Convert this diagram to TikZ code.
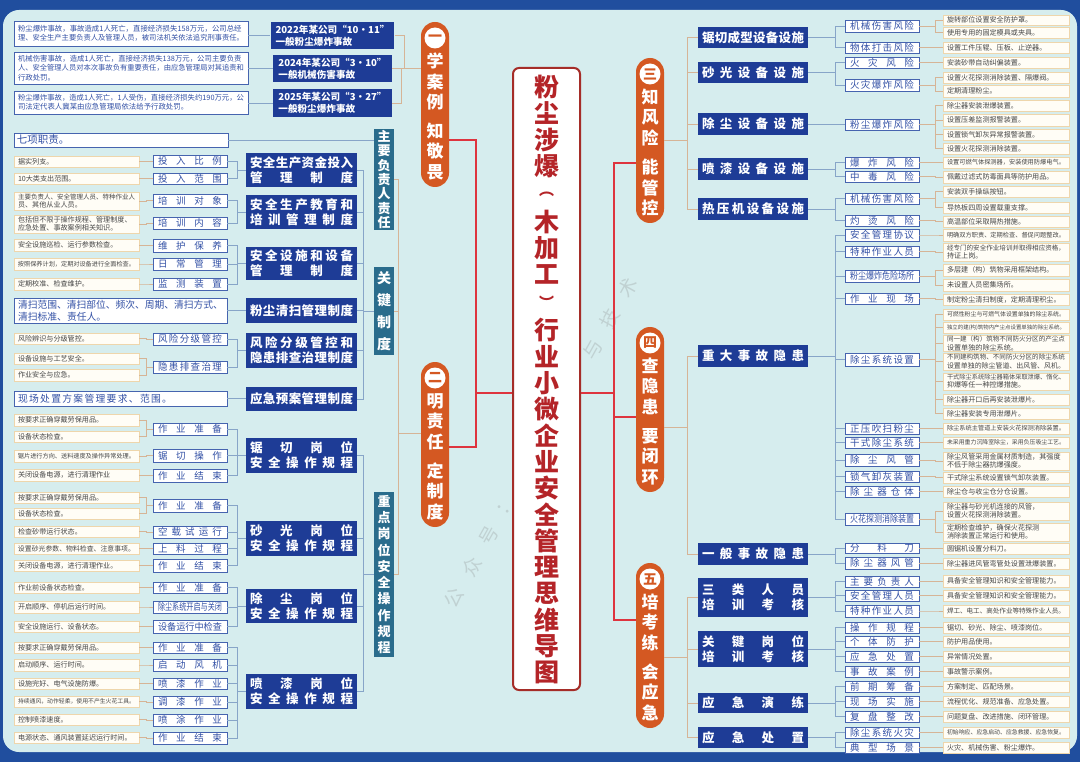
\documentclass[tikz,border=0pt]{standalone}
\usepackage{fontspec}
\setmainfont{Noto Sans CJK SC}
\usepackage{graphicx}
\definecolor{bgout}{RGB}{32,78,158}
\definecolor{panel}{RGB}{214,237,238}
\definecolor{dkb}{RGB}{30,60,150}
\definecolor{tealc}{RGB}{42,108,140}
\definecolor{catb}{RGB}{70,100,175}
\definecolor{catt}{RGB}{50,80,165}
\definecolor{leaff}{RGB}{255,253,246}
\definecolor{leafb}{RGB}{238,214,172}
\definecolor{leaft}{RGB}{70,70,70}
\definecolor{pillc}{RGB}{212,88,34}
\definecolor{titleb}{RGB}{165,45,40}
\definecolor{titlet}{RGB}{180,36,40}
\definecolor{redc}{RGB}{222,52,62}
\definecolor{tanc}{RGB}{214,180,150}
\definecolor{bgc}{RGB}{135,165,200}
\newsavebox\fitbox
\newcommand\fitw[2]{\sbox\fitbox{#2}\ifdim\wd\fitbox>#1\relax\resizebox{#1}{!}{\usebox\fitbox}\else\usebox\fitbox\fi}
\def\spreadchars#1{\spreadA#1\endspread}
\def\spreadA#1#2\endspread{#1\ifx\relax#2\relax\else\hfill\spreadA#2\endspread\fi}
\newcommand\spreadfit[2]{\sbox\fitbox{#2}\ifdim\wd\fitbox>#1\relax\resizebox{#1}{\height}{\usebox\fitbox}\else\makebox[#1]{\spreadchars{#2}}\fi}
\newcommand\FL[1]{\fitw{\tw pt}{#1}}
\newcommand\SP[1]{\spreadfit{\tw pt}{#1}}
\newcommand\bx[7]{\pgfmathsetmacro\bw{#5-#3}\pgfmathsetmacro\bh{#6-#4}\pgfmathsetmacro\tw{#5-#3-8}%
 \node[#1,minimum width=\bw pt,minimum height=\bh pt] (#2) at ({(#3+#5)/2},{(#4+#6)/2}) {#7};}
\newcommand\tb[7]{\pgfmathsetmacro\bh{#6-#4}\pgfmathsetmacro\tw{#5-#3-8}%
 \node[#1,minimum height=\bh pt,text width=\tw pt] (#2) at ({(#3+#5)/2},{(#4+#6)/2}) {#7};}
\newcommand\catn[6]{\pgfmathsetmacro\bw{#4-#2}\pgfmathsetmacro\bh{#5-#3}\pgfmathsetmacro\tw{#4-#2-10}%
 \node[cat,minimum width=\bw pt,minimum height=\bh pt] (#1) at ({(#2+#4)/2},{(#3+#5)/2}) {\spreadfit{\tw pt}{#6}};}
\newcommand\Lleaf[4]{\tb{leaf}{#1}{14}{#2}{139}{#3}{\FL{#4}}}
\newcommand\LleafM[4]{\tb{leaf}{#1}{14}{#2}{139}{#3}{#4}}
\newcommand\Rleaf[4]{\tb{leaf}{#1}{943}{#2}{1069}{#3}{\FL{#4}}}
\newcommand\RleafM[4]{\tb{leaf}{#1}{943}{#2}{1069}{#3}{#4}}
\newcommand\Lcat[4]{\catn{#1}{153}{#2}{227}{#3}{#4}}
\newcommand\Rcat[4]{\catn{#1}{845}{#2}{919}{#3}{#4}}
\newcommand\Ldk[4]{\bx{dark}{#1}{246}{#2}{357}{#3}{#4}}
\newcommand\Rdk[4]{\bx{dark}{#1}{698}{#2}{808}{#3}{#4}}
\newcommand\pillnode[6]{%
 \node[pill] (#1) at (#2,{#3+82.5}) {};
 \node[pillnum] (#1n) at (#2,{#3+16}) {#4};
 \foreach \c [count=\i] in {#5} {\node[pillch] (#1a\i) at (#2,{#3+39+20.5*(\i-1)}) {\c};}
 \foreach \c [count=\i] in {#6} {\node[pillch] (#1b\i) at (#2,{#3+109+20.5*(\i-1)}) {\c};}
}
\tikzset{
 leaf/.style={draw=leafb,fill=leaff,line width=0.7pt,inner xsep=4pt,inner ysep=0.5pt,text=leaft,font=\fontsize{7.1}{8.2}\selectfont,align=left},
 casebox/.style={draw=catb,fill=white,line width=0.9pt,inner xsep=4pt,inner ysep=1pt,text=catt,font=\fontsize{7.4}{9.4}\selectfont,align=left},
 bigbox/.style={draw=catb,fill=white,line width=0.9pt,inner xsep=4pt,inner ysep=1pt,text=catt,font=\fontsize{9.8}{12}\selectfont,align=left},
 cat/.style={draw=catb,fill=white,line width=0.9pt,inner sep=0pt,text=catt,font=\fontsize{9.5}{10}\selectfont},
 dark/.style={fill=dkb,inner sep=0pt,text=white,font=\bfseries\fontsize{12.5}{15}\selectfont,align=center},
 ctitle/.style={fill=dkb,inner xsep=5pt,inner ysep=0pt,text=white,font=\bfseries\fontsize{9.6}{12}\selectfont,align=left},
 teal/.style={fill=tealc,inner sep=0pt,text=white,align=center},
 pill/.style={fill=pillc,rounded corners=14pt,inner sep=0pt,minimum width=28pt,minimum height=165pt},
 pillnum/.style={circle,fill=white,minimum size=21pt,inner sep=0pt,text=pillc,font=\bfseries\fontsize{14}{14}\selectfont},
 pillch/.style={inner sep=0pt,text=white,font=\bfseries\fontsize{17}{17}\selectfont},
 titch/.style={inner sep=0pt,text=titlet,font=\bfseries\fontsize{25}{25}\selectfont},
 titpar/.style={inner sep=0pt,text=titlet,font=\bfseries\fontsize{15}{15}\selectfont},
 wmch/.style={inner sep=0pt,text=gray,text opacity=0.25,font=\fontsize{19}{19}\selectfont},
 tanl/.style={draw=tanc,line width=0.8pt},
 bgl/.style={draw=bgc,line width=0.8pt},
 redline/.style={draw=redc,line width=1.4pt},
}
\begin{document}
\begin{tikzpicture}[x=1pt,y=-1pt]
\useasboundingbox (0,0) rectangle (1080,762);
\fill[bgout] (0,0) rectangle (1080,762);
\fill[panel,rounded corners=16pt] (3,10) rectangle (1077,752);

% ---------- watermark (the middle is hidden by the title box) ----------
\foreach \k/\c in {0/公,1/众,2/号,3/：,8/与,9/技,10/术}
  \node[wmch,rotate=60.8] (wm\k) at ({541+(\k-5)*17.32},{443-(\k-5)*31.0}) {\c};

% ---------- title ----------
\node[draw=titleb,line width=2pt,fill=white,rounded corners=6pt,minimum width=67pt,minimum height=622pt] (tbox) at (546.5,379) {};
\foreach \y/\c [count=\i] in {87/粉,113.3/尘,139.6/涉,165.9/爆,221.9/木,248.2/加,274.5/工,330.5/行,356.8/业,383.1/小,409.4/微,435.7/企,462/业,488.3/安,514.6/全,540.9/管,567.2/理,593.5/思,619.8/维,646.1/导,672.4/图}
  \node[titch] (tc\i) at (546.5,\y) {\c};
\node[titpar] (tpo) at (546.5,194.5) {︵};
\node[titpar] (tpc) at (546.5,302) {︶};

% ---------- pills ----------
\pillnode{p1}{435}{22}{一}{学,案,例}{知,敬,畏}
\pillnode{p2}{435}{362}{二}{明,责,任}{定,制,度}
\pillnode{p3}{650}{58}{三}{知,风,险}{能,管,控}
\pillnode{p4}{650}{327}{四}{查,隐,患}{要,闭,环}
\pillnode{p5}{650}{563}{五}{培,考,练}{会,应,急}

% ---------- left: cases ----------
\tb{casebox}{cs1}{14}{21}{248}{46}{\FL{粉尘爆炸事故，事故造成1人死亡，直接经济损失158万元，公司总经}\\\FL{理、安全生产主要负责人及管理人员，被司法机关依法追究刑事责任。}}
\tb{casebox}{cs2}{14}{52}{248}{84}{\FL{机械伤害事故，造成1人死亡，直接经济损失138万元，公司主要负责}\\\FL{人、安全管理人员对本次事故负有重要责任，由应急管理局对其追责和}\\\FL{行政处罚。}}
\tb{casebox}{cs3}{14}{91}{248}{114}{\FL{粉尘爆炸事故，造成1人死亡，1人受伤，直接经济损失约190万元，公}\\\FL{司法定代表人冀某由应急管理局依法给予行政处罚。}}
\bx{ctitle}{ct1}{277}{22}{388}{49}{2022年某公司“10•11”\\一般粉尘爆炸事故}
\bx{ctitle}{ct2}{277}{55}{388}{82}{2024年某公司“3•10”\\一般机械伤害事故}
\bx{ctitle}{ct3}{277}{89}{388}{117}{2025年某公司“3•27”\\一般粉尘爆炸事故}

% ---------- left: teal ----------
\bx{teal,font=\bfseries\fontsize{13}{14.3}\selectfont}{tl1}{374}{129}{394}{230}{主\\要\\负\\责\\人\\责\\任}
\bx{teal,font=\bfseries\fontsize{14}{22}\selectfont}{tl2}{374}{267}{394}{355}{关\\键\\制\\度}
\bx{teal,font=\bfseries\fontsize{13}{16.3}\selectfont}{tl3}{374}{492}{394}{657}{重\\点\\岗\\位\\安\\全\\操\\作\\规\\程}

\tb{bigbox,font=\fontsize{10.5}{12}\selectfont}{qx}{14}{133}{228}{147}{\makebox[50pt]{\spreadchars{七项职责。}}}
\tb{bigbox}{qs}{14}{298}{227}{323}{\FL{清扫范围、清扫部位、频次、周期、清扫方式、}\\\FL{清扫标准、责任人。}}
\tb{bigbox}{qf}{14}{391}{227}{406}{\makebox[154pt]{\spreadchars{现场处置方案管理要求、范围。}}}

% ---------- left: dark ----------
\Ldk{dA}{153}{187}{\SP{安全生产资金投入}\\\SP{管理制度}}
\Ldk{dB}{195}{229}{\SP{安全生产教育和}\\\SP{培训管理制度}}
\Ldk{dC}{247}{280}{\SP{安全设施和设备}\\\SP{管理制度}}
\Ldk{dD}{298}{323}{\SP{粉尘清扫管理制度}}
\Ldk{dE}{333}{368}{\SP{风险分级管控和}\\\SP{隐患排查治理制度}}
\Ldk{dF}{387}{411}{\SP{应急预案管理制度}}
\Ldk{dG}{438}{473}{\SP{锯切岗位}\\\SP{安全操作规程}}
\Ldk{dH}{521}{556}{\SP{砂光岗位}\\\SP{安全操作规程}}
\Ldk{dI}{589}{623}{\SP{除尘岗位}\\\SP{安全操作规程}}
\Ldk{dJ}{674}{709}{\SP{喷漆岗位}\\\SP{安全操作规程}}

% ---------- left: categories ----------
\Lcat{c1}{155}{167}{投入比例}
\Lcat{c2}{173}{184}{投入范围}
\Lcat{c3}{194}{207}{培训对象}
\Lcat{c4}{217}{229}{培训内容}
\Lcat{c5}{239}{252}{维护保养}
\Lcat{c6}{258}{270}{日常管理}
\Lcat{c7}{278}{290}{监测装置}
\Lcat{c8}{333}{345}{风险分级管控}
\Lcat{c9}{361}{373}{隐患排查治理}
\Lcat{c10}{423}{435}{作业准备}
\Lcat{c11}{449}{462}{锯切操作}
\Lcat{c12}{469}{482}{作业结束}
\Lcat{c13}{499}{512}{作业准备}
\Lcat{c14}{526}{538}{空载试运行}
\Lcat{c15}{543}{554}{上料过程}
\Lcat{c16}{559}{572}{作业结束}
\Lcat{c17}{582}{593}{作业准备}
\Lcat{c18}{601}{613}{除尘系统开启与关闭}
\Lcat{c19}{620}{633}{设备运行中检查}
\Lcat{c20}{642}{653}{作业准备}
\Lcat{c21}{659}{671}{启动风机}
\Lcat{c22}{678}{689}{喷漆作业}
\Lcat{c23}{696}{708}{调漆作业}
\Lcat{c24}{714}{726}{喷涂作业}
\Lcat{c25}{732}{744}{作业结束}

% ---------- left: leaves ----------
\Lleaf{l1}{156}{167}{据实列支。}
\Lleaf{l2}{173}{184}{10大类支出范围。}
\LleafM{l3}{192}{210}{\FL{主要负责人、安全管理人员、特种作业人}\\\FL{员、其他从业人员。}}
\LleafM{l4}{215}{233}{\FL{包括但不限于操作规程、管理制度、}\\\FL{应急处置、事故案例相关知识。}}
\Lleaf{l5}{239}{251}{安全设施巡检、运行参数检查。}
\Lleaf{l6}{258}{270}{按照保养计划，定期对设备进行全面检查。}
\Lleaf{l7}{278}{290}{定期校准、检查维护。}
\Lleaf{l8}{333}{344}{风险辨识与分级管控。}
\Lleaf{l9}{353}{364}{设备设施与工艺安全。}
\Lleaf{l10}{369}{381}{作业安全与应急。}
\Lleaf{l11}{414}{426}{按要求正确穿戴劳保用品。}
\Lleaf{l12}{431}{442}{设备状态检查。}
\Lleaf{l13}{450}{462}{锯片进行方向、送料速度及操作异常处理。}
\Lleaf{l14}{469}{481}{关闭设备电源，进行清理作业}
\Lleaf{l15}{492}{503}{按要求正确穿戴劳保用品。}
\Lleaf{l16}{508}{519}{设备状态检查。}
\Lleaf{l17}{526}{537}{检查砂带运行状态。}
\Lleaf{l18}{543}{554}{设置砂光参数、物料检查、注意事项。}
\Lleaf{l19}{560}{571}{关闭设备电源，进行清理作业。}
\Lleaf{l20}{582}{593}{作业前设备状态检查。}
\Lleaf{l21}{601}{613}{开启顺序、停机后运行时间。}
\Lleaf{l22}{621}{632}{安全设施运行、设备状态。}
\Lleaf{l23}{642}{653}{按要求正确穿戴劳保用品。}
\Lleaf{l24}{659}{671}{启动顺序、运行时间。}
\Lleaf{l25}{678}{689}{设施完好、电气设施防爆。}
\Lleaf{l26}{696}{707}{持续通风，动作轻柔，使用不产生火花工具。}
\Lleaf{l27}{714}{725}{控制喷漆速度。}
\Lleaf{l28}{732}{743}{电源状态、通风装置延迟运行时间。}

% ---------- right: dark ----------
\Rdk{R1}{27}{48}{\SP{锯切成型设备设施}}
\Rdk{R2}{62}{83}{\SP{砂光设备设施}}
\Rdk{R3}{113}{135}{\SP{除尘设备设施}}
\Rdk{R4}{158}{180}{\SP{喷漆设备设施}}
\Rdk{R5}{198}{220}{\SP{热压机设备设施}}
\Rdk{R6}{345}{367}{\SP{重大事故隐患}}
\Rdk{R7}{543}{565}{\SP{一般事故隐患}}
\Rdk{R8}{578}{617}{\SP{三类人员}\\\SP{培训考核}}
\Rdk{R9}{631}{667}{\SP{关键岗位}\\\SP{培训考核}}
\Rdk{R10}{693}{713}{\SP{应急演练}}
\Rdk{R11}{727}{748}{\SP{应急处置}}

% ---------- right: categories ----------
\Rcat{k1}{20}{32}{机械伤害风险}
\Rcat{k2}{42}{53}{物体打击风险}
\Rcat{k3}{57}{68}{火灾风险}
\Rcat{k4}{79}{91}{火灾爆炸风险}
\Rcat{k5}{119}{130}{粉尘爆炸风险}
\Rcat{k6}{157}{168}{爆炸风险}
\Rcat{k7}{171}{182}{中毒风险}
\Rcat{k8}{193}{204}{机械伤害风险}
\Rcat{k9}{215}{226}{灼烫风险}
\Rcat{k10}{229}{241}{安全管理协议}
\Rcat{k11}{246}{257}{特种作业人员}
\Rcat{k12}{270}{282}{粉尘爆炸危险场所}
\Rcat{k13}{293}{304}{作业现场}
\Rcat{k14}{353}{366}{除尘系统设置}
\Rcat{k15}{423}{434}{正压吹扫粉尘}
\Rcat{k16}{437}{448}{干式除尘系统}
\Rcat{k17}{454}{466}{除尘风管}
\Rcat{k18}{471}{482}{锁气卸灰装置}
\Rcat{k19}{486}{497}{除尘器仓体}
\Rcat{k20}{513}{525}{火花探测消除装置}
\Rcat{k21}{543}{553}{分料刀}
\Rcat{k22}{557}{569}{除尘器风管}
\Rcat{k23}{576}{587}{主要负责人}
\Rcat{k24}{590}{601}{安全管理人员}
\Rcat{k25}{605}{617}{特种作业人员}
\Rcat{k26}{622}{633}{操作规程}
\Rcat{k27}{636}{647}{个体防护}
\Rcat{k28}{651}{662}{应急处置}
\Rcat{k29}{666}{677}{事故案例}
\Rcat{k30}{681}{692}{前期筹备}
\Rcat{k31}{696}{707}{现场实施}
\Rcat{k32}{711}{722}{复盘整改}
\Rcat{k33}{727}{738}{除尘系统火灾}
\Rcat{k34}{742}{753}{典型场景}

% ---------- right: leaves ----------
\Rleaf{r1}{15}{25}{旋转部位设置安全防护罩。}
\Rleaf{r2}{27}{38}{使用专用的固定模具或夹具。}
\Rleaf{r3}{42}{53}{设置工件压辊、压板、止逆器。}
\Rleaf{r4}{57}{68}{安装砂带自动纠偏装置。}
\Rleaf{r5}{72}{83}{设置火花探测消除装置、隔爆阀。}
\Rleaf{r6}{85}{97}{定期清理粉尘。}
\Rleaf{r7}{100}{111}{除尘器安装泄爆装置。}
\Rleaf{r8}{114}{126}{设置压差监测报警装置。}
\Rleaf{r9}{129}{140}{设置锁气卸灰异常报警装置。}
\Rleaf{r10}{143}{154}{设置火花探测消除装置。}
\Rleaf{r11}{157}{168}{设置可燃气体探测器，安装使用防爆电气。}
\Rleaf{r12}{171}{183}{佩戴过滤式防毒面具等防护用品。}
\Rleaf{r13}{186}{197}{安装双手操纵按钮。}
\Rleaf{r14}{202}{213}{导热板四周设置载重支撑。}
\Rleaf{r15}{216}{227}{高温部位采取隔热措施。}
\Rleaf{r16}{229}{241}{明确双方职责、定期检查、督促问题整改。}
\RleafM{r17}{243}{261}{\FL{经专门的安全作业培训并取得相应资格，}\\\FL{持证上岗。}}
\Rleaf{r18}{264}{276}{多层建（构）筑物采用框架结构。}
\Rleaf{r19}{279}{291}{未设置人员密集场所。}
\Rleaf{r20}{294}{305}{制定粉尘清扫制度，定期清理积尘。}
\Rleaf{r21}{309}{320}{可燃性粉尘与可燃气体设置单独的除尘系统。}
\Rleaf{r22}{322}{333}{独立的建(构)筑物内产尘点设置单独的除尘系统。}
\RleafM{r23}{336}{351}{\FL{同一建（构）筑物不同防火分区的产尘点}\\\FL{设置单独的除尘系统。}}
\RleafM{r24}{353}{370}{\FL{不同建构筑物、不同防火分区的除尘系统}\\\FL{设置单独的除尘管道、出风管、风机。}}
\RleafM{r25}{373}{390}{\FL{干式除尘系统除尘器箱体采取泄爆、惰化、}\\\FL{抑爆等任一种控爆措施。}}
\Rleaf{r26}{394}{405}{除尘器开口后再安装泄爆片。}
\Rleaf{r27}{408}{419}{除尘器安装专用泄爆片。}
\Rleaf{r28}{423}{434}{除尘系统主管道上安装火花探测消除装置。}
\Rleaf{r29}{437}{448}{未采用重力沉降室除尘，采用负压吸尘工艺。}
\RleafM{r30}{452}{470}{\FL{除尘风管采用金属材质制造，其强度}\\\FL{不低于除尘器抗爆强度。}}
\Rleaf{r31}{472}{483}{干式除尘系统设置锁气卸灰装置。}
\Rleaf{r32}{486}{497}{除尘仓与收尘仓分仓设置。}
\RleafM{r33}{502}{520}{\FL{除尘器与砂光机连接的风管，}\\\FL{设置火花探测消除装置。}}
\RleafM{r34}{523}{541}{\FL{定期检查维护，确保火花探测}\\\FL{消除装置正常运行和使用。}}
\Rleaf{r35}{543}{554}{圆锯机设置分料刀。}
\Rleaf{r36}{558}{569}{除尘器进风管弯管处设置泄爆装置。}
\Rleaf{r37}{575}{587}{具备安全管理知识和安全管理能力。}
\Rleaf{r38}{590}{601}{具备安全管理知识和安全管理能力。}
\Rleaf{r39}{605}{617}{焊工、电工、高处作业等特殊作业人员。}
\Rleaf{r40}{622}{633}{锯切、砂光、除尘、喷漆岗位。}
\Rleaf{r41}{636}{647}{防护用品使用。}
\Rleaf{r42}{651}{662}{异常情况处置。}
\Rleaf{r43}{666}{677}{事故警示案例。}
\Rleaf{r44}{681}{692}{方案制定、匹配场景。}
\Rleaf{r45}{696}{707}{流程优化、规范准备、应急处置。}
\Rleaf{r46}{711}{722}{问题复盘、改进措施、闭环管理。}
\Rleaf{r47}{727}{738}{初始响应、应急启动、应急救援、应急恢复。}
\Rleaf{r48}{742}{753}{火灾、机械伤害、粉尘爆炸。}

% ---------- connectors ----------
\coordinate (rl) at (476,393);
\coordinate (rr) at (614,393);
\draw[redline] (tbox.west |- rl) -- (rl);
\draw[redline] (p1.east |- 0,140) -| (rl);
\draw[redline] (p2.east |- 0,447) -| (rl);
\draw[redline] (tbox.east |- rr) -- (rr);
\draw[redline] (p3.west |- 0,163) -| (rr);
\draw[redline] (p4.west |- 0,417) -| (rr);
\draw[redline] (p5.west |- 0,620) -| (rr);

\foreach \a in {ct1,ct2,ct3} \draw[tanl] (\a.east) -- ++(10,0) |- (p1.west |- 0,68);
\draw[bgl] (cs1.east |- ct1.west) -- (ct1.west);
\draw[bgl] (cs2.east |- ct2.west) -- (ct2.west);
\draw[bgl] (cs3.east |- ct3.west) -- (ct3.west);

\foreach \a in {tl1,tl2,tl3} \draw[tanl] (\a.east) -- ++(4,0) |- (p2.west |- 0,433);
\draw[bgl] (qx.east) -- (qx.east -| tl1.west);
\foreach \a in {dA,dB,dC,dD,dE,dF} \draw[bgl] (\a.east) -- ++(6,0) |- (tl2.west);
\foreach \a in {dG,dH,dI,dJ} \draw[bgl] (\a.east) -- ++(6,0) |- (tl3.west);
\draw[bgl] (qs.east) -- (qs.east -| dD.west);
\draw[bgl] (qf.east) -- (qf.east -| dF.west);

\foreach \a/\b in {c1/dA,c2/dA,c3/dB,c4/dB,c5/dC,c6/dC,c7/dC,c8/dE,c9/dE,c10/dG,c11/dG,c12/dG,c13/dH,c14/dH,c15/dH,c16/dH,c17/dI,c18/dI,c19/dI,c20/dJ,c21/dJ,c22/dJ,c23/dJ,c24/dJ,c25/dJ}
  \draw[bgl] (\a.east) -- ++(10,0) |- (\b.west);
\foreach \a/\b in {l1/c1,l2/c2,l3/c3,l4/c4,l5/c5,l6/c6,l7/c7,l8/c8,l9/c9,l10/c9,l11/c10,l12/c10,l13/c11,l14/c12,l15/c13,l16/c13,l17/c14,l18/c15,l19/c16,l20/c17,l21/c18,l22/c19,l23/c20,l24/c21,l25/c22,l26/c23,l27/c24,l28/c25}
  \draw[tanl] (\a.east) -- ++(7,0) |- (\b.west);

\foreach \a in {R1,R2,R3,R4,R5} \draw[tanl] (\a.west) -- ++(-10,0) |- (p3.east |- 0,140);
\foreach \a in {R6,R7} \draw[tanl] (\a.west) -- ++(-10,0) |- (p4.east |- 0,427);
\foreach \a in {R8,R9,R10,R11} \draw[tanl] (\a.west) -- ++(-10,0) |- (p5.east |- 0,657);

\foreach \a/\b in {R1/k1,R1/k2,R2/k3,R2/k4,R3/k5,R4/k6,R4/k7,R5/k8,R5/k9,R6/k10,R6/k11,R6/k12,R6/k13,R6/k14,R6/k15,R6/k16,R6/k17,R6/k18,R6/k19,R6/k20,R7/k21,R7/k22,R8/k23,R8/k24,R8/k25,R9/k26,R9/k27,R9/k28,R9/k29,R10/k30,R10/k31,R10/k32,R11/k33,R11/k34}
  \draw[bgl] (\a.east) -- ++(27,0) |- (\b.west);
\foreach \a/\b in {k1/r1,k1/r2,k2/r3,k3/r4,k4/r5,k4/r6,k5/r7,k5/r8,k5/r9,k5/r10,k6/r11,k7/r12,k8/r13,k8/r14,k9/r15,k10/r16,k11/r17,k12/r18,k12/r19,k13/r20,k14/r21,k14/r22,k14/r23,k14/r24,k14/r25,k14/r26,k14/r27,k15/r28,k16/r29,k17/r30,k18/r31,k19/r32,k20/r33,k20/r34,k21/r35,k22/r36,k23/r37,k24/r38,k25/r39,k26/r40,k27/r41,k28/r42,k29/r43,k30/r44,k31/r45,k32/r46,k33/r47,k34/r48}
  \draw[tanl] (\a.east) -- ++(16,0) |- (\b.west);
\end{tikzpicture}
\end{document}
